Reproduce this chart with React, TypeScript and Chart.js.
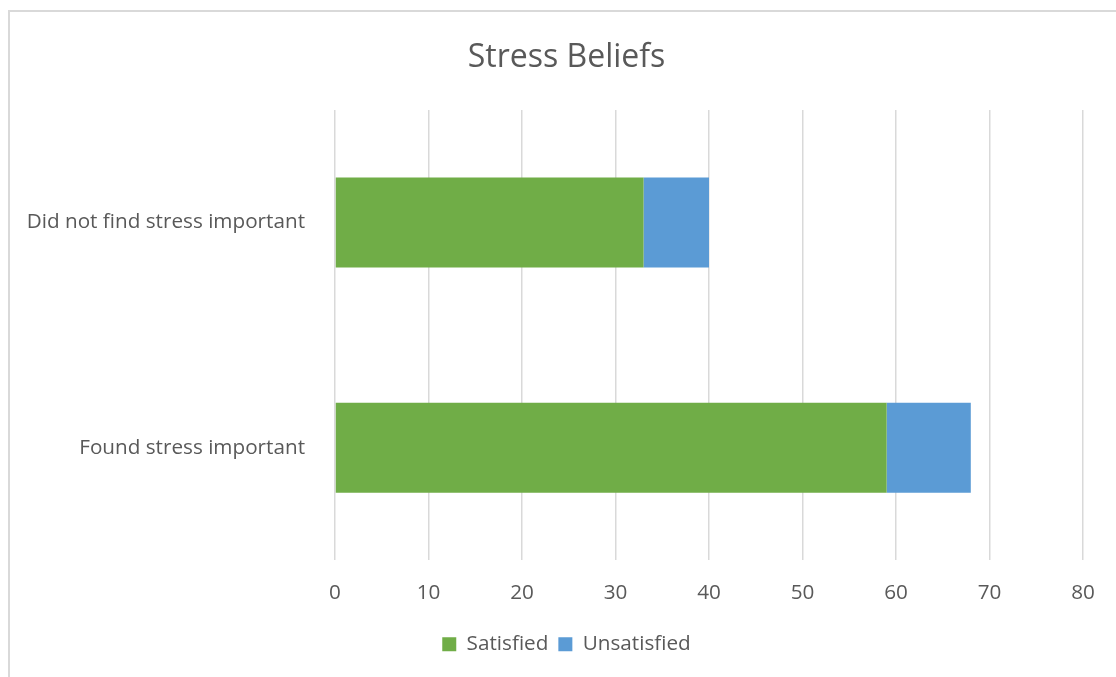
import React, { useEffect, useRef } from "react";
import { Chart, registerables } from "chart.js";

Chart.register(...registerables);

const categories = ["Did not find stress important", "Found stress important"];
const satisfied = [33, 59];
const unsatisfied = [7, 9];
const xTicks = [0, 10, 20, 30, 40, 50, 60, 70, 80];

const FONT = "'Open Sans', sans-serif";
const TEXT = "#595959";
const GRID = "#d9d9d9";
const LABEL_SIZE = 20.7;

// The chart frame starts 8px in and runs on past the right edge of the view.
const FRAME_W = 1117;
const FRAME_H = 677;

export default function App() {
  const ref = useRef<HTMLCanvasElement | null>(null);

  useEffect(() => {
    if (!ref.current) return;
    const chart = new Chart(ref.current, {
      type: "bar",
      data: {
        labels: categories,
        datasets: [
          {
            label: "Satisfied",
            data: satisfied,
            backgroundColor: "#70ad47",
            borderWidth: 0,
          },
          {
            label: "Unsatisfied",
            data: unsatisfied,
            backgroundColor: "#5b9bd5",
            borderWidth: 0,
          },
        ],
      },
      options: {
        indexAxis: "y",
        responsive: false,
        animation: false,
        devicePixelRatio: 1,
        layout: { padding: { left: 0, right: 0, top: 0, bottom: 12.5 } },
        datasets: {
          bar: { barPercentage: 0.4, categoryPercentage: 1 },
        },
        scales: {
          x: {
            stacked: true,
            min: 0,
            max: 80,
            afterBuildTicks: (scale: any) => {
              scale.ticks = xTicks.map((v) => ({ value: v }));
            },
            afterFit: (scale: any) => {
              scale.height = 63.5;
            },
            grid: { color: GRID, lineWidth: 1.5, drawTicks: false },
            border: { display: false },
            ticks: {
              color: TEXT,
              padding: 20,
              font: { family: FONT, size: LABEL_SIZE },
            },
          },
          y: {
            stacked: true,
            afterFit: (scale: any) => {
              scale.width = 327;
            },
            grid: { display: false, drawTicks: false },
            border: { display: false },
            ticks: {
              color: TEXT,
              padding: 30,
              font: { family: FONT, size: LABEL_SIZE },
            },
          },
          // empty right-hand margin of the plot
          yRight: {
            type: "category",
            position: "right",
            afterFit: (scale: any) => {
              scale.width = 42;
            },
            grid: { display: false, drawTicks: false },
            border: { display: false },
            ticks: { display: false },
          },
        },
        plugins: {
          title: {
            display: true,
            text: "Stress Beliefs",
            color: TEXT,
            font: { family: FONT, size: 32, weight: "normal" },
            padding: { top: 39, bottom: 32.6 },
          },
          legend: {
            position: "bottom",
            labels: {
              boxWidth: 14,
              boxHeight: 14,
              color: TEXT,
              padding: 10,
              font: { family: FONT, size: LABEL_SIZE },
            },
          },
          tooltip: { enabled: false },
        },
      },
    });
    return () => chart.destroy();
  }, []);

  return (
    <div
      style={{
        position: "absolute",
        left: 0,
        top: 0,
        width: 1116,
        height: 677,
        overflow: "hidden",
        background: "#ffffff",
      }}
    >
      <div
        style={{
          position: "absolute",
          left: 8,
          top: 10,
          width: 1200,
          height: 800,
          border: "2px solid #d9d9d9",
          boxSizing: "border-box",
        }}
      />
      <canvas
        ref={ref}
        width={FRAME_W}
        height={FRAME_H}
        style={{ position: "absolute", left: 8, top: 0, width: FRAME_W, height: FRAME_H }}
      />
    </div>
  );
}
